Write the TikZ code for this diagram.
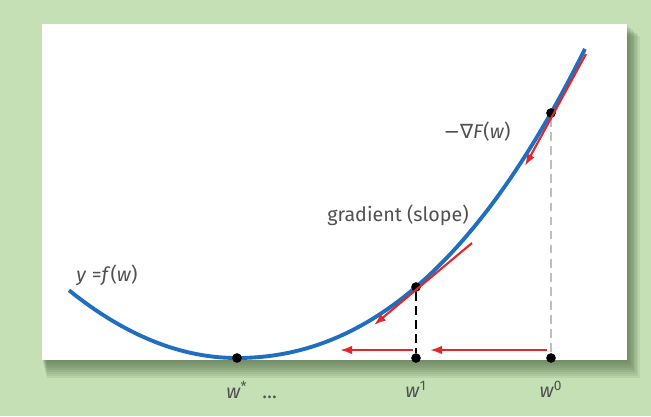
\documentclass[tikz,border=0pt]{standalone}
\usepackage{fontspec}
\setmainfont{Fira Sans}
\newfontfamily\symfont{DejaVu Sans}
\usetikzlibrary{arrows.meta,positioning}
\definecolor{BgGreen}{HTML}{C5E0B4}
\definecolor{ShadowGreen}{HTML}{3E5834}
\definecolor{CurveBlue}{HTML}{1F6EC0}
\definecolor{StepRed}{HTML}{E3262A}
\definecolor{LabelGray}{HTML}{505050}

\begin{document}
\begin{tikzpicture}[
  x=0.02cm, y=-0.02cm,
  curve/.style={draw=CurveBlue, line width=2.2pt},
  stepflow/.style={-{Latex[length=2.4mm, width=1.7mm]}, draw=StepRed, line width=1.2pt},
  dot/.style={circle, fill=black, inner sep=0pt, minimum size=5.5pt},
  drop/.style={dash pattern=on 5pt off 3pt},
  lbl/.style={text=LabelGray, font=\fontsize{11.2}{13}\selectfont, inner sep=1pt}
]
\useasboundingbox[fill=BgGreen] (0,0) rectangle (651,416);
% panel and its soft shadow
\foreach \s in {1,...,9}
  \fill[ShadowGreen, opacity=0.09] (42+\s*0.5,24+\s*1.3) rectangle (627+\s*1.4,360+\s*2);
\fill[white] (42,24) rectangle (627,360);
% loss curve
\draw[curve] plot[domain=69:237, samples=40] (\x,{358-24*((\x-237)/100)^2})
  -- plot[domain=237:585, samples=70] (\x,{358-18.6*((\x-237)/100)^2-1.99*((\x-237)/100)^3});
% points
\node[dot] (wstar) at (237,358) {};
\node[dot] (w1) at (416,287) {};
\node[dot] (w0) at (551,113) {};
\node[dot] (a1) at (416,358) {};
\node[dot] (a0) at (551,358) {};
\draw[drop, draw=gray!50, line width=1.3pt] (w0) -- (a0);
\draw[drop, draw=black, line width=0.7pt] (w1) -- (a1);
% gradient steps
\coordinate (t0top) at (586,54);
\coordinate (t0tip) at (525,166);
\coordinate (t1top) at (472,243);
\coordinate (t1tip) at (374,325);
\draw[stepflow] (t0top) -- (t0tip);
\draw[stepflow] (t1top) -- (t1tip);
\coordinate (h0start) at (547,350);
\coordinate (h0tip) at (430,350);
\coordinate (h1start) at (413,350);
\coordinate (h1tip) at (340,350);
\draw[stepflow] (h0start) -- (h0tip);
\draw[stepflow] (h1start) -- (h1tip);
% labels
\node[lbl, below=9pt of wstar] (lstar) {\textit{w}\textsuperscript{*}};
\node[lbl, right=6pt of lstar.south east, anchor=south west] (ldots) {\dots};
\node[lbl, below=9pt of a1] (lw1) {\textit{w}\textsuperscript{1}};
\node[lbl, below=9pt of a0] (lw0) {\textit{w}\textsuperscript{0}};
\node[lbl] (lgrad) at (398,215) {gradient (slope)};
\node[lbl] (lneg) at (477,132) {{\symfont −∇}\textit{F}(\textit{w})};
\node[lbl] (lfun) at (107,275) {\textit{y} =\textit{f}(\textit{w})};
\end{tikzpicture}
\end{document}
